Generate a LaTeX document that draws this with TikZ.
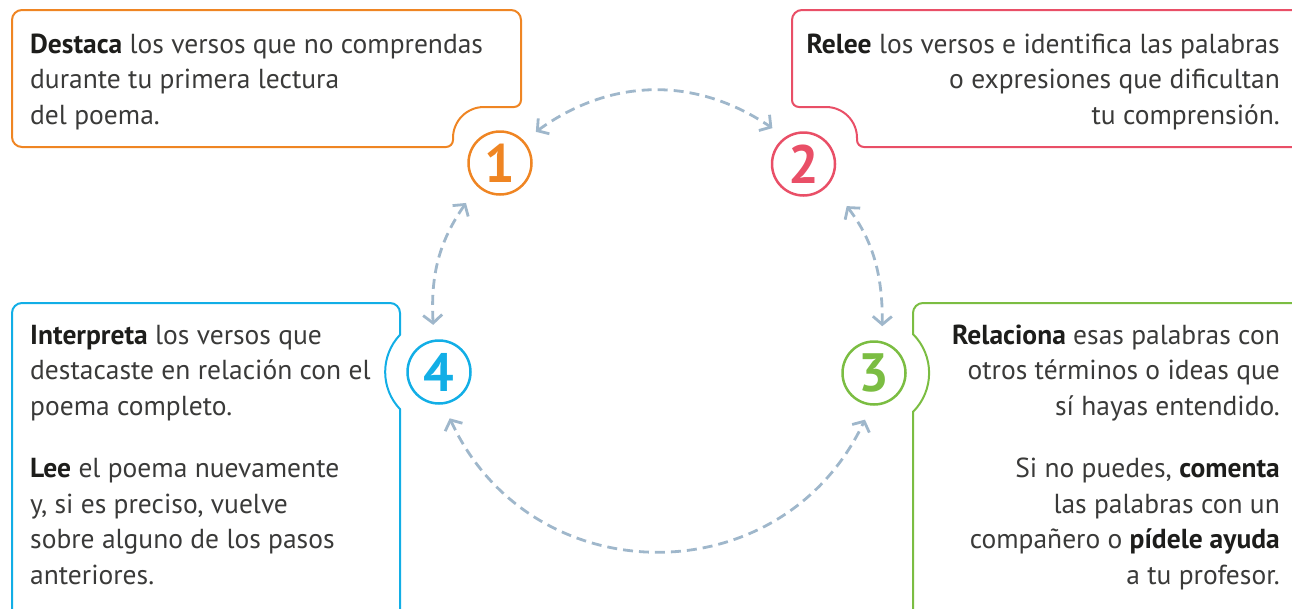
\documentclass[tikz,border=0pt]{standalone}
\usepackage{fontspec}
\setmainfont{PT Sans}
\usetikzlibrary{arrows.meta,calc}
\definecolor{corange}{HTML}{EF8523}
\definecolor{cpink}{HTML}{E94F67}
\definecolor{ccyan}{HTML}{12AEE6}
\definecolor{cgreen}{HTML}{7BBD42}
\definecolor{carrow}{HTML}{9FB7CB}
\definecolor{ctext}{HTML}{3A3A39}
\definecolor{cbold}{HTML}{1D1D1B}
\newcommand{\hb}[1]{{\bfseries\color{cbold}#1}}
\begin{document}
\begin{tikzpicture}[x=1pt,y=-1pt,
  boxline/.style={line width=2pt},
  numcirc/.style={circle, draw=#1, text=#1, line width=2.5pt, minimum size=63pt, inner sep=0pt, outer sep=16pt, font=\fontsize{54}{54}\selectfont\bfseries},
  boxtext/.style={inner sep=0pt, text=ctext, font=\fontsize{27.5}{35.5}\selectfont},
  conn/.style={draw=carrow, line width=2.8pt, dash pattern=on 10pt off 6pt, arrows={Straight Barb[length=8pt,width=19pt]-Straight Barb[length=8pt,width=19pt]}}
]
\useasboundingbox (0,0) rectangle (1292,608);
\clip (0,0) rectangle (1292,608);

% box 1 (orange)
\draw[boxline, draw=corange] (22,10) -- (511,10) arc[start angle=90,end angle=0,radius=10pt]
  -- (521,100) arc[start angle=0,end angle=-90,radius=7pt]
  -- (484,107) arc[start angle=90,end angle=180,radius=31pt]
  -- (453,140) arc[start angle=0,end angle=-90,radius=7pt]
  -- (22,147) arc[start angle=-90,end angle=-180,radius=10pt]
  -- (12,20) arc[start angle=180,end angle=90,radius=10pt] -- cycle;

% box 2 (pink)
\draw[boxline, draw=cpink] (1302,10) -- (802,10) arc[start angle=90,end angle=180,radius=10pt]
  -- (792,100) arc[start angle=180,end angle=270,radius=7pt]
  -- (826,107) arc[start angle=90,end angle=0,radius=31pt]
  -- (857,140) arc[start angle=180,end angle=270,radius=7pt]
  -- (1302,147);

% box 4 (cyan)
\draw[boxline, draw=ccyan] (12,620) -- (12,313) arc[start angle=180,end angle=90,radius=10pt]
  -- (390,303) arc[start angle=90,end angle=0,radius=10pt]
  -- (400,334.8) arc[start angle=136.5,end angle=223.5,radius=54pt]
  -- (400,620);

% box 3 (green)
\draw[boxline, draw=cgreen] (1302,303) -- (923,303) arc[start angle=90,end angle=180,radius=10pt]
  -- (913,334.1) arc[start angle=45,end angle=-45,radius=55pt]
  -- (913,620);

% texts
\node[boxtext, anchor=north west, align=left] (t1) at (30,28)
  {\strut\hb{Destaca} los versos que no comprendas\\durante tu primera lectura\\del poema.};
\node[boxtext, anchor=north east, align=right] (t2) at (1280,28)
  {\strut\hb{Relee} los versos e identifica las palabras\\o expresiones que dificultan\\tu comprensión.};
\node[boxtext, anchor=north west, align=left] (t4) at (30,319)
  {\strut\hb{Interpreta} los versos que\\destacaste en relación con el\\poema completo.\\[27pt]\hb{Lee} el poema nuevamente\\y, si es preciso, vuelve\\sobre alguno de los pasos\\anteriores.};
\node[boxtext, anchor=north east, align=right] (t3) at (1280,319)
  {\strut\hb{Relaciona} esas palabras con\\otros términos o ideas que\\sí hayas entendido.\\[27pt]Si no puedes, \hb{comenta}\\las palabras con un\\compañero o \hb{pídele ayuda}\\a tu profesor.};

% number circles
\node[numcirc=corange] (c1) at (500,163) {1};
\node[numcirc=cpink] (c2) at (803.5,164) {2};
\node[numcirc=cgreen] (c3) at (874,373) {3};
\node[numcirc=ccyan] (c4) at (439,372) {4};

% connectors
\draw[conn] (c1.41) to[bend left=35] (c2.131);
\draw[conn, shorten <=5pt] (c1.229) to[bend right=19] (c4.97);
\draw[conn, shorten <=13pt] (c2.-42) to[bend left=19] (c3.80);
\draw[conn] (c4.-77) to[bend right=65, looseness=1.2] (c3.-101);
\end{tikzpicture}
\end{document}
